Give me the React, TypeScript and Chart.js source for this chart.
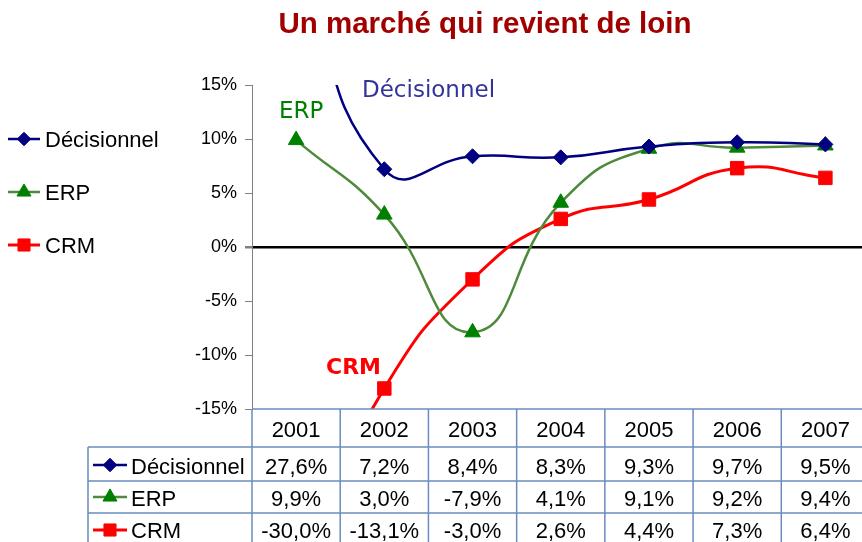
import React, { useEffect, useRef } from 'react';
import { Chart, registerables } from 'chart.js';

Chart.register(...registerables);

// ---- data ----
const title = 'Un marché qui revient de loin';
const years = ['2001', '2002', '2003', '2004', '2005', '2006', '2007'];
const seriesNames = ['Décisionnel', 'ERP', 'CRM'];
const decisionnel = [27.6, 7.2, 8.4, 8.3, 9.3, 9.7, 9.5];
const erp = [9.9, 3.0, -7.9, 4.1, 9.1, 9.2, 9.4];
const crm = [-30.0, -13.1, -3.0, 2.6, 4.4, 7.3, 6.4];
const yMin = -15;
const yMax = 15;
const yStep = 5;

// ---- styles ----
const FONT = '"Liberation Sans", Arial, sans-serif';
const seriesStyles = [
  { line: '#000080', marker: '#000080', shape: 'rectRot', radius: 7.5, width: 2.5 },
  { line: '#4F8A3C', marker: '#008000', shape: 'triangle', radius: 9, width: 2.5 },
  { line: '#FF0000', marker: '#FF0000', shape: 'rect', radius: 9.5, width: 3 },
];
const annotations = [
  { text: 'Décisionnel', x: 362, y: 97, color: '#333399', font: '23px "DejaVu Sans", Verdana, sans-serif' },
  { text: 'ERP', x: 279, y: 118, color: '#008000', font: '23px "DejaVu Sans", Verdana, sans-serif' },
  { text: 'CRM', x: 326, y: 374, color: '#FF0000', font: 'bold 22px "DejaVu Sans", Verdana, sans-serif' },
];

const fmt = (v: number) => v.toFixed(1).replace('.', ',') + '%';

function drawMarker(ctx: CanvasRenderingContext2D, shape: string, x: number, y: number, color: string, r: number) {
  ctx.save();
  ctx.fillStyle = color;
  ctx.strokeStyle = color;
  ctx.lineWidth = 1;
  ctx.beginPath();
  if (shape === 'rectRot') {
    ctx.moveTo(x - r, y);
    ctx.lineTo(x, y - r);
    ctx.lineTo(x + r, y);
    ctx.lineTo(x, y + r);
    ctx.closePath();
  } else if (shape === 'triangle') {
    ctx.moveTo(x, y - r);
    ctx.lineTo(x + r * 0.866, y + r * 0.5);
    ctx.lineTo(x - r * 0.866, y + r * 0.5);
    ctx.closePath();
  } else {
    const s = r * Math.SQRT1_2;
    ctx.rect(x - s, y - s, 2 * s, 2 * s);
  }
  ctx.fill();
  ctx.stroke();
  ctx.restore();
}

function drawLegendItem(ctx: CanvasRenderingContext2D, i: number, x0: number, x1: number, y: number, textX: number, baseline: number) {
  const st = seriesStyles[i];
  ctx.save();
  ctx.strokeStyle = st.line;
  ctx.lineWidth = st.width;
  ctx.beginPath();
  ctx.moveTo(x0, y);
  ctx.lineTo(x1, y);
  ctx.stroke();
  drawMarker(ctx, st.shape, (x0 + x1) / 2, y, st.marker, st.radius * 0.9);
  ctx.fillStyle = '#000';
  ctx.font = '22px ' + FONT;
  ctx.textAlign = 'left';
  ctx.textBaseline = 'alphabetic';
  ctx.fillText(seriesNames[i], textX, baseline);
  ctx.restore();
}

const decorPlugin = {
  id: 'decor',
  afterDraw(chart: any) {
    const ctx: CanvasRenderingContext2D = chart.ctx;
    const xs = chart.scales.x;
    const area = chart.chartArea;
    const allSeries = [decisionnel, erp, crm];

    // title
    ctx.save();
    ctx.fillStyle = '#A00000';
    ctx.font = 'bold 29.5px ' + FONT;
    ctx.textAlign = 'center';
    ctx.textBaseline = 'alphabetic';
    ctx.fillText(title, 485, 33);
    ctx.restore();

    // annotations
    annotations.forEach((a) => {
      ctx.save();
      ctx.fillStyle = a.color;
      ctx.font = a.font;
      ctx.textAlign = 'left';
      ctx.textBaseline = 'alphabetic';
      ctx.fillText(a.text, a.x, a.y);
      ctx.restore();
    });

    // left legend
    const legendY = [139, 192, 245];
    seriesNames.forEach((_, i) => drawLegendItem(ctx, i, 8, 40, legendY[i], 45, legendY[i] + 8));

    // data table
    const colW = (area.right - area.left) / years.length;
    const top = area.bottom;
    const rowLines = [top, 447, 481, 513, 548];
    const labelLeft = 88;
    ctx.save();
    ctx.strokeStyle = '#6A8CC0';
    ctx.lineWidth = 1.5;
    ctx.beginPath();
    ctx.moveTo(area.left, rowLines[0]);
    ctx.lineTo(area.right, rowLines[0]);
    for (let r = 1; r < rowLines.length; r++) {
      ctx.moveTo(labelLeft, rowLines[r]);
      ctx.lineTo(area.right, rowLines[r]);
    }
    ctx.moveTo(labelLeft, rowLines[1]);
    ctx.lineTo(labelLeft, rowLines[4]);
    for (let c = 0; c <= years.length; c++) {
      const x = area.left + c * colW;
      ctx.moveTo(x, rowLines[0]);
      ctx.lineTo(x, rowLines[4]);
    }
    ctx.stroke();

    ctx.fillStyle = '#000';
    ctx.font = '22px ' + FONT;
    ctx.textAlign = 'center';
    ctx.textBaseline = 'alphabetic';
    years.forEach((yr, c) => {
      ctx.fillText(yr, xs.getPixelForValue(c), 437);
    });
    const baselines = [474, 506, 538];
    allSeries.forEach((vals, r) => {
      vals.forEach((v, c) => {
        ctx.fillText(fmt(v), xs.getPixelForValue(c), baselines[r]);
      });
    });
    ctx.restore();

    const rowCenters = [465, 497, 530];
    seriesNames.forEach((_, i) => drawLegendItem(ctx, i, 93, 127, rowCenters[i], 131, baselines[i]));
  },
};

export default function App() {
  const ref = useRef<HTMLCanvasElement>(null);

  useEffect(() => {
    if (!ref.current) return;
    const allSeries = [decisionnel, erp, crm];
    const chart = new Chart(ref.current, {
      type: 'line',
      data: {
        labels: years,
        datasets: allSeries.map((vals, i) => ({
          label: seriesNames[i],
          data: vals,
          borderColor: seriesStyles[i].line,
          borderWidth: seriesStyles[i].width,
          backgroundColor: seriesStyles[i].marker,
          pointBackgroundColor: seriesStyles[i].marker,
          pointBorderColor: seriesStyles[i].marker,
          pointBorderWidth: 1,
          pointStyle: seriesStyles[i].shape as any,
          pointRadius: seriesStyles[i].radius,
          tension: 0.5,
          fill: false,
        })),
      },
      options: {
        animation: false,
        responsive: false,
        events: [],
        layout: { padding: { left: 192, top: 85, right: 8, bottom: 133 } },
        elements: { line: { capBezierPoints: false } },
        plugins: {
          legend: { display: false },
          tooltip: { enabled: false },
          title: { display: false },
        },
        scales: {
          x: { display: false, offset: true },
          y: {
            min: yMin,
            max: yMax,
            afterFit: (s: any) => {
              s.width = 60;
            },
            ticks: {
              stepSize: yStep,
              padding: 8,
              color: '#000',
              font: { family: FONT, size: 18 },
              callback: (v: any) => v + '%',
            },
            grid: {
              drawOnChartArea: true,
              drawTicks: true,
              tickLength: 7,
              tickColor: '#808080',
              color: (c: any) => (c.tick && c.tick.value === 0 ? '#000' : 'rgba(0,0,0,0)'),
              lineWidth: (c: any) => (c.tick && c.tick.value === 0 ? 2.5 : 1),
            },
            border: { color: '#808080', width: 1 },
          },
        },
      },
      plugins: [decorPlugin],
    });
    return () => chart.destroy();
  }, []);

  return (
    <div style={{ position: 'fixed', left: 0, top: 0, width: 862, height: 542, overflow: 'hidden', background: '#fff' }}>
      <canvas ref={ref} width={880} height={542} style={{ display: 'block', width: 880, height: 542 }} />
    </div>
  );
}
